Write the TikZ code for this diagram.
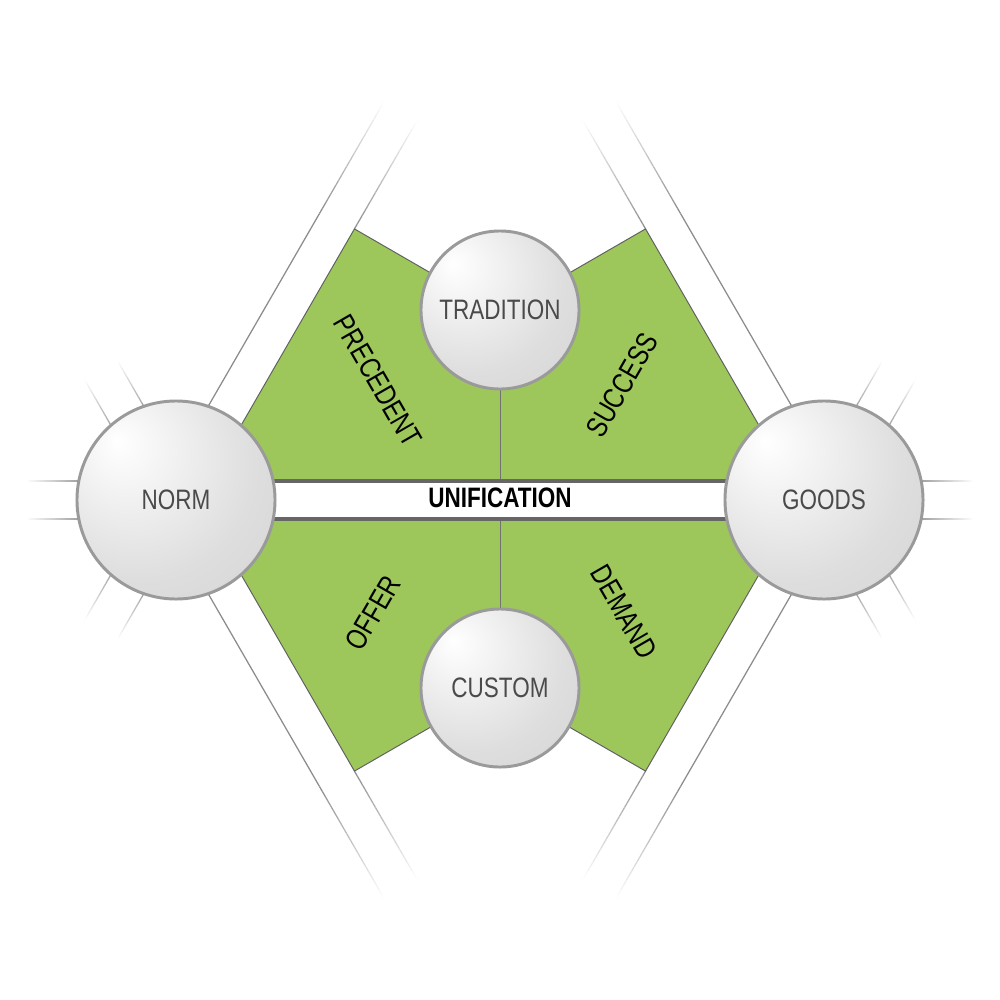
\documentclass[tikz,border=0pt]{standalone}
\usepackage{fontspec}
\setmainfont{Liberation Sans}[FakeStretch=0.8]
\usetikzlibrary{calc}
\definecolor{leaf}{RGB}{157,199,91}
\definecolor{bandgray}{RGB}{102,102,102}
\definecolor{rimgray}{RGB}{154,154,154}
\definecolor{labelgray}{RGB}{74,74,74}
\pgfdeclareradialshading{sphere}{\pgfpoint{-15bp}{15bp}}{color(0bp)=(white); color(29bp)=(black!13); color(50bp)=(black!18); color(72bp)=(black!24)}
\newcommand\fadeseg[4]{%
  \foreach \i in {0,...,23}{%
    \pgfmathsetmacro\fadA{\i/24}%
    \pgfmathsetmacro\fadB{(\i+1)/24}%
    \pgfmathsetmacro\fadP{#3*(1-(\i+0.5)/24)}%
    \draw[line width=#4, draw=black!\fadP] ($(#1)!\fadA!(#2)$) -- ($(#1)!\fadB!(#2)$);
  }}
\tikzset{
  ball/.style={circle, draw=rimgray, line width=2.1pt, shade, shading=sphere, inner sep=0pt, text=labelgray, font=\fontsize{20}{22}\selectfont},
  sector/.style={text=black, font=\fontsize{21}{23}\selectfont, inner sep=0pt},
  bandline/.style={draw=black!45, line width=0.9pt},
}
\begin{document}
\begin{tikzpicture}[x=0.025cm, y=-0.025cm]
\useasboundingbox (0,0) rectangle (1000,1000);
% long bands (NORM side)
\draw[bandline] (207.55,407.4) -- (319.55,213.4);
\fadeseg{319.55,213.4}{384.55,100.8}{45}{0.9pt}
\fadeseg{354.45,228.9}{417.45,119.8}{45}{0.9pt}
\draw[bandline] (207.55,592.6) -- (319.55,786.6);
\fadeseg{319.55,786.6}{384.55,899.2}{45}{0.9pt}
\fadeseg{354.45,771.1}{417.45,880.2}{45}{0.9pt}
% long bands (GOODS side)
\draw[bandline] (792.45,407.4) -- (680.45,213.4);
\fadeseg{680.45,213.4}{615.45,100.8}{45}{0.9pt}
\fadeseg{645.55,228.9}{582.55,119.8}{45}{0.9pt}
\draw[bandline] (792.45,592.6) -- (680.45,786.6);
\fadeseg{680.45,786.6}{615.45,899.2}{45}{0.9pt}
\fadeseg{645.55,771.1}{582.55,880.2}{45}{0.9pt}
% stubs NORM
\fadeseg{86,481}{26,481}{42}{0.9pt}
\fadeseg{86,519}{26,519}{42}{0.9pt}
\fadeseg{147.45,412.6}{117.45,360.6}{42}{0.9pt}
\fadeseg{114.55,431.6}{84.55,379.6}{42}{0.9pt}
\fadeseg{147.45,587.4}{117.45,639.4}{42}{0.9pt}
\fadeseg{114.55,568.4}{84.55,620.4}{42}{0.9pt}
% stubs GOODS
\fadeseg{914,481}{974,481}{42}{0.9pt}
\fadeseg{914,519}{974,519}{42}{0.9pt}
\fadeseg{852.55,412.6}{882.55,360.6}{42}{0.9pt}
\fadeseg{885.45,431.6}{915.45,379.6}{42}{0.9pt}
\fadeseg{852.55,587.4}{882.55,639.4}{42}{0.9pt}
\fadeseg{885.45,568.4}{915.45,620.4}{42}{0.9pt}
% green field
\draw[fill=leaf, draw=black!62, line width=0.7pt, line join=miter]
  (198,500) -- (354.45,228.9) -- (500,313) -- (645.55,228.9) -- (802,500)
  -- (645.55,771.1) -- (500,687) -- (354.45,771.1) -- cycle;
% centres
\coordinate (tc) at (500,310);
\coordinate (cc) at (500,688);
\coordinate (nc) at (176,500);
\coordinate (gc) at (824,500);
\draw[draw=black!55, line width=0.7pt] (tc) -- (cc);
% unification band
\fill[white] (176,481) rectangle (824,519);
\draw[draw=bandgray, line width=2.5pt] ($(nc)+(0,-19)$) -- ($(gc)+(0,-19)$);
\draw[draw=bandgray, line width=2.5pt] ($(nc)+(0,19)$) -- ($(gc)+(0,19)$);
\node[font=\bfseries\fontsize{20}{22}\selectfont, text=black, inner sep=0pt] (uni) at (500,498) {UNIFICATION};
% spheres
\node[ball, minimum size=4.95cm] (norm) at (nc) {NORM};
\node[ball, minimum size=4.95cm] (goods) at (gc) {GOODS};
\node[ball, minimum size=3.95cm] (trad) at (tc) {TRADITION};
\node[ball, minimum size=3.95cm] (cust) at (cc) {CUSTOM};
% sector labels
\node[sector, rotate=-60] (prec) at (378,381) {PRECEDENT};
\node[sector, rotate=60] (succ) at (622,385) {SUCCESS};
\node[sector, rotate=60] (offer) at (373,613) {OFFER};
\node[sector, rotate=-60] (dem) at (624,612) {DEMAND};
\end{tikzpicture}
\end{document}
